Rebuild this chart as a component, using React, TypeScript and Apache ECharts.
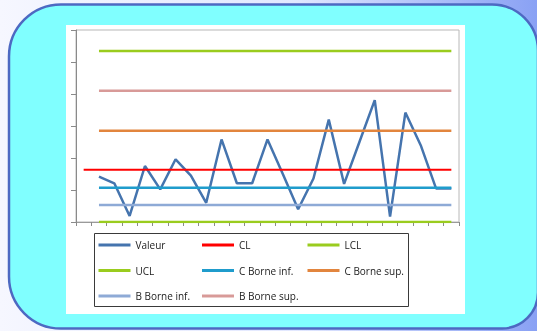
import React, { useEffect, useRef } from "react";
import * as echarts from "echarts";

const categories = ["0","1","2","3","4","5","6","7","8","9","10","11","12","13","14","15","16","17","18","19","20","21","22","23","24"];
const valeur = [null, 1.42, 1.21, 0.19, 1.75, 1.02, 1.96, 1.45, 0.6, 2.58, 1.21, 1.21, 2.58, 1.5, 0.4, 1.36, 3.2, 1.19, 2.5, 3.81, 0.17, 3.42, 2.4, 1.05, 1.05];
const cl = 1.63;
const lcl = 0;
const ucl = 5.34;
const cInf = 1.07;
const cSup = 2.85;
const bInf = 0.53;
const bSup = 4.1;
const lineStart = "1";
const clStart = "0";
const lineEnd = "24";

const FONT = "'Open Sans', 'Noto Sans', sans-serif";

function level(name: string, v: number, color: string, width: number, start = lineStart) {
  return {
    name,
    type: "line",
    data: [[start, v], [lineEnd, v]],
    symbol: "none",
    lineStyle: { color, width },
    itemStyle: { color },
  };
}

export default function App() {
  const ref = useRef<HTMLDivElement>(null);
  useEffect(() => {
    if (!ref.current) return;
    const chart = echarts.init(ref.current, null, { renderer: "svg" });
    const legendBase = {
      orient: "vertical",
      icon: "rect",
      itemWidth: 32,
      itemHeight: 3,
      itemGap: 13.5,
      padding: 0,
      top: 239,
      selectedMode: false,
      textStyle: { fontSize: 10, color: "#222", fontFamily: FONT, lineHeight: 12 },
    };
    chart.setOption({
      animation: false,
      graphic: [
        {
          type: "rect",
          z: -100,
          shape: { x: 0, y: 0, width: 537, height: 331 },
          style: {
            fill: new echarts.graphic.LinearGradient(0, 0, 1, 0, [
              { offset: 0, color: "#f6f7ff" },
              { offset: 0.55, color: "#e2e8ff" },
              { offset: 1, color: "#89a1f4" },
            ]),
          },
        },
        {
          type: "rect",
          z: -99,
          shape: { x: 9, y: 4.5, width: 529, height: 324, r: [52, 46, 36, 52] },
          style: { fill: "#80ffff", stroke: "#4d69c2", lineWidth: 2.5 },
        },
        {
          type: "rect",
          z: -98,
          shape: { x: 66, y: 25, width: 399, height: 289 },
          style: { fill: "#ffffff" },
        },
        {
          type: "rect",
          z: -97,
          shape: { x: 94.5, y: 233.5, width: 314, height: 73 },
          style: { fill: "#ffffff", stroke: "#3a3a3a", lineWidth: 1 },
        },
      ],
      grid: {
        left: 76,
        right: 78,
        top: 30,
        bottom: 109,
        show: true,
        borderColor: "#b8b8b8",
        borderWidth: 1,
        backgroundColor: "transparent",
      },
      legend: [
        { ...legendBase, left: 98.5, data: ["Valeur", "UCL", "B Borne inf."] },
        { ...legendBase, left: 202, data: ["CL", "C Borne inf.", "B Borne sup."] },
        { ...legendBase, left: 307.5, data: ["LCL", "C Borne sup."] },
      ],
      xAxis: {
        type: "category",
        data: categories,
        boundaryGap: true,
        axisLine: { lineStyle: { color: "#9a9a9a", width: 1 } },
        axisTick: { show: true, length: 4, interval: 0, lineStyle: { color: "#8a8a8a" } },
        axisLabel: { show: false },
        splitLine: { show: false },
      },
      yAxis: {
        type: "value",
        min: 0,
        max: 6,
        interval: 1,
        axisLine: { show: true, lineStyle: { color: "#8a8a8a", width: 1 } },
        axisTick: { show: true, length: 5, lineStyle: { color: "#8a8a8a" } },
        axisLabel: { show: false },
        splitLine: { show: false },
      },
      series: [
        {
          name: "Valeur",
          type: "line",
          data: valeur,
          symbol: "none",
          lineStyle: { color: "#4574ae", width: 2.5 },
          itemStyle: { color: "#4574ae" },
        },
        level("CL", cl, "#ff0000", 2, clStart),
        level("LCL", lcl, "#9acc1e", 2.5),
        level("UCL", ucl, "#9acc1e", 2.5),
        level("C Borne inf.", cInf, "#1f9ccc", 2.5),
        level("C Borne sup.", cSup, "#e2853e", 2.5),
        level("B Borne inf.", bInf, "#8eaad6", 2.5),
        level("B Borne sup.", bSup, "#d89a98", 2.5),
      ],
    });
    return () => chart.dispose();
  }, []);
  return (
    <div
      ref={ref}
      style={{ position: "fixed", left: 0, top: 0, width: 537, height: 331 }}
    />
  );
}
